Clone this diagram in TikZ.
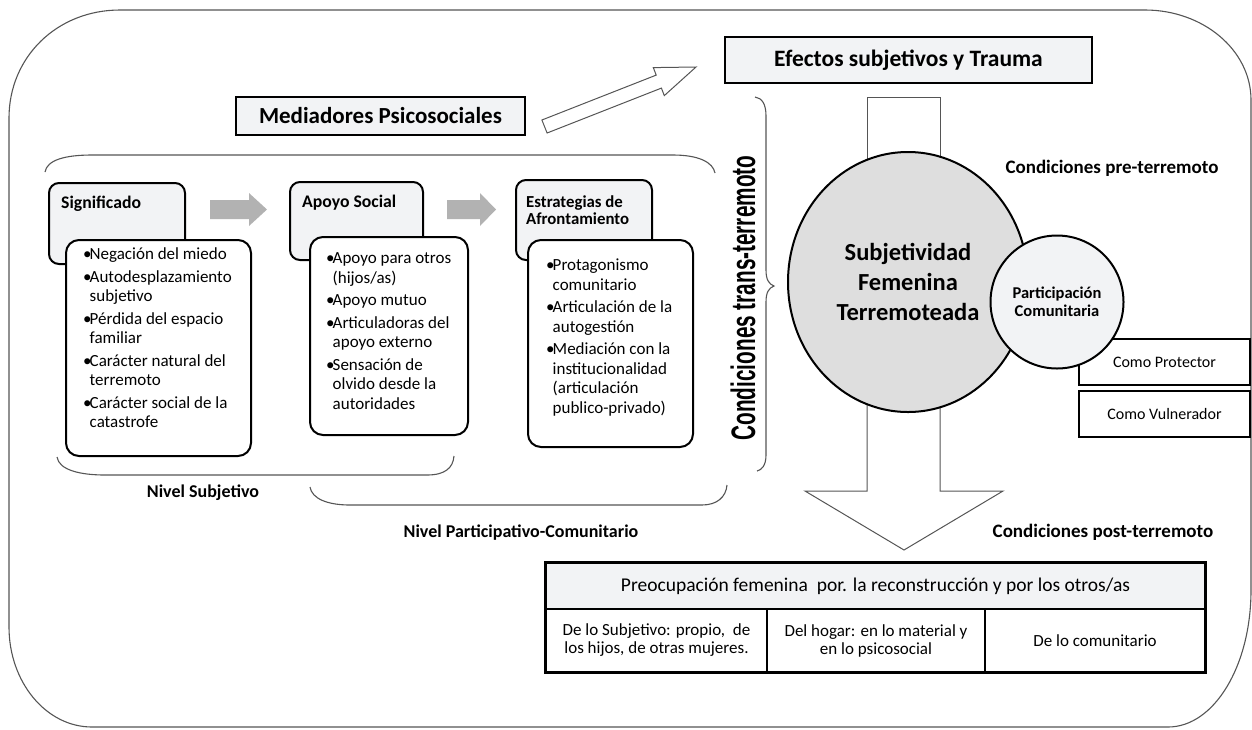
\documentclass[tikz,border=0pt]{standalone}
\usepackage{fontspec}
\setmainfont{Carlito}
\newfontfamily\arialfont{Liberation Sans}
\usetikzlibrary{shapes.geometric}
\definecolor{boxgray}{RGB}{242,243,245}
\definecolor{circgray}{RGB}{222,222,222}
\definecolor{arrgray}{RGB}{178,178,178}
\definecolor{framegray}{RGB}{85,85,85}
\newcommand{\fs}[2]{\fontsize{#1}{#2}\selectfont}
\newcommand{\bul}{\makebox[6.5pt][l]{•}}
\newcommand{\ind}{\hspace*{6.5pt}}
\begin{document}
\begin{tikzpicture}[x=1pt,y=-1pt,
  frame/.style={draw=framegray,line width=1.1pt},
  titlebox/.style={draw,fill=boxgray,line width=2pt,rounded corners=10pt},
  listbox/.style={draw,fill=white,line width=2pt,rounded corners=13pt},
  ttl/.style={anchor=base west,inner sep=0pt,font=\bfseries\fs{17.7}{18}},
  listtext/.style={anchor=north west,inner sep=0pt,align=left,font=\fs{17}{19.5}},
  lbl/.style={inner sep=0pt,font=\bfseries\fs{18}{20}},
  cell/.style={draw,line width=1.3pt,inner sep=0pt,align=center,font=\fs{17}{18}}]
\useasboundingbox (0,0) rectangle (1252,729);

% outer frame
\draw[frame] (120,10) -- (1145,10) .. controls (1203,10) and (1251,50) .. (1251,100)
  -- (1251,590) .. controls (1251,666) and (1214,727) .. (1168,727)
  -- (92,727) .. controls (46,727) and (9,682) .. (9,627)
  -- (9,118) .. controls (9,57) and (57,10) .. (120,10) -- cycle;

% headings
\node[draw,fill=boxgray,line width=1.2pt,minimum width=367pt,minimum height=46pt,font=\bfseries\fs{23.5}{28}] (efec) at (908.5,60) {Efectos subjetivos y Trauma};
\node[draw,fill=boxgray,line width=1.2pt,minimum width=289pt,minimum height=38pt,font=\bfseries\fs{23}{27}] (med) at (380.5,116) {Mediadores Psicosociales};
\draw[draw=framegray,fill=white,line width=1pt] (541.9,120) -- (656.2,75.1) -- (653.3,67.6) -- (696,67)
  -- (664.3,95.6) -- (661.4,88.1) -- (547.1,133) -- cycle;

% brackets
\draw[frame] (45,172) .. controls (47,160) and (65,155) .. (92,155) -- (673,155) .. controls (698,155) and (713,162) .. (715,173);
\draw[frame] (57,457) .. controls (59,470) and (80,475) .. (105,475) -- (427,475) .. controls (445,475) and (453,468) .. (454,456);
\draw[frame] (310,487) .. controls (312,499) and (328,505) .. (350,505) -- (702,505) .. controls (717,505) and (726,497) .. (727,485);
\draw[frame] (755,97) .. controls (762,98) and (766,104) .. (766,116) -- (766,270) .. controls (766,280) and (769,284) .. (774,286)
  .. controls (769,288) and (766,292) .. (766,302) -- (766,455) .. controls (766,465) and (762,470) .. (757,471);

% mediators
\draw[titlebox] (49,183) rectangle (185,264);
\node[ttl] (sigT) at (61,208) {Significado};
\draw[listbox] (66,240) rectangle (251,456);
\node[listtext] (sigL) at (83,246) {\strut\bul Negación del miedo\\[3pt]
  \strut\bul Autodesplazamiento\\ \strut\ind subjetivo\\[3pt]
  \strut\bul Pérdida del espacio\\ \strut\ind familiar\\[3pt]
  \strut\bul Carácter natural del\\ \strut\ind terremoto\\[3pt]
  \strut\bul Carácter social de la\\ \strut\ind catastrofe};

\draw[fill=arrgray,draw=none] (210,200) -- (249,200) -- (249,193) -- (267,209.5) -- (249,226) -- (249,219) -- (210,219) -- cycle;

\draw[titlebox] (290,182) rectangle (423,260);
\node[ttl] (apoT) at (302,207) {Apoyo Social};
\draw[listbox] (310,237) rectangle (468,435);
\node[listtext] (apoL) at (326,250) {\strut\bul Apoyo para otros\\ \strut\ind(hijos/as)\\[3pt]
  \strut\bul Apoyo mutuo\\[3pt]
  \strut\bul Articuladoras del\\ \strut\ind apoyo externo\\[3pt]
  \strut\bul Sensación de\\ \strut\ind olvido desde la\\ \strut\ind autoridades};

\draw[fill=arrgray,draw=none] (447,200) -- (480,200) -- (480,193) -- (496,209.5) -- (480,226) -- (480,219) -- (447,219) -- cycle;

\draw[titlebox] (516,180) rectangle (652,260);
\node[ttl,align=left,anchor=north west,font=\bfseries\fs{16.8}{17.5}] (estT) at (526,195) {\strut Estrategias de\\\strut Afrontamiento};
\draw[listbox] (528,240) rectangle (693,447);
\node[listtext] (estL) at (546,257) {\strut\bul Protagonismo\\ \strut\ind comunitario\\[3pt]
  \strut\bul Articulación de la\\ \strut\ind autogestión\\[3pt]
  \strut\bul Mediación con la\\ \strut\ind institucionalidad\\ \strut\ind(articulación\\ \strut\ind publico-privado)};

\node[lbl] (nsub) at (203,493) {Nivel Subjetivo};
\node[lbl] (npart) at (521,533) {Nivel Participativo-Comunitario};
\node[rotate=90,xscale=0.61,inner sep=0pt,font=\arialfont\bfseries\fs{34}{34}] (trans) at (743,298) {Condiciones trans-terremoto};

% subjectivity
\draw[draw=framegray,fill=white,line width=1pt] (867,97) rectangle (940,220);
\draw[draw=framegray,fill=white,line width=1pt] (867,380) -- (867,491) -- (805,491) -- (904,550) -- (1003,491) -- (940,491) -- (940,380);
\node[ellipse,draw,fill=circgray,line width=2pt,minimum width=240pt,minimum height=260pt,align=center,font=\bfseries\fs{24.5}{30}] (subj) at (908,282) {Subjetividad\\Femenina\\Terremoteada};
\node[draw,line width=2pt,minimum width=171pt,minimum height=46pt,font=\fs{16}{19}] (prot) at (1164.5,362) {Como Protector};
\node[draw,line width=2pt,minimum width=171pt,minimum height=46pt,font=\fs{16}{19}] (vuln) at (1164.5,414) {Como Vulnerador};
\node[circle,draw,fill=boxgray,line width=2pt,minimum size=133pt,align=center,font=\bfseries\fs{16.5}{18.5}] (part) at (1057,302) {Participación\\Comunitaria};
\node[lbl,font=\bfseries\fs{19}{21}] (pre) at (1112,168) {Condiciones pre-terremoto};
\node[lbl,font=\bfseries\fs{19}{21}] (post) at (1103,532) {Condiciones post-terremoto};

% table
\node[cell,fill=boxgray,minimum width=659pt,minimum height=46pt,font=\fs{19.5}{21}] (preo) at (875.5,586) {Preocupación femenina \ por. la reconstrucción y por los otros/as};
\node[cell,minimum width=221pt,minimum height=63pt] (c1) at (656.5,640.5) {De lo Subjetivo: propio, \ de\\los hijos, de otras mujeres.};
\node[cell,minimum width=218pt,minimum height=63pt] (c2) at (876,640.5) {Del hogar: en lo material y\\en lo psicosocial};
\node[cell,minimum width=220pt,minimum height=63pt] (c3) at (1095,640.5) {De lo comunitario};
\draw[line width=2pt] (preo.north west) rectangle (c3.south east);
\end{tikzpicture}
\end{document}
